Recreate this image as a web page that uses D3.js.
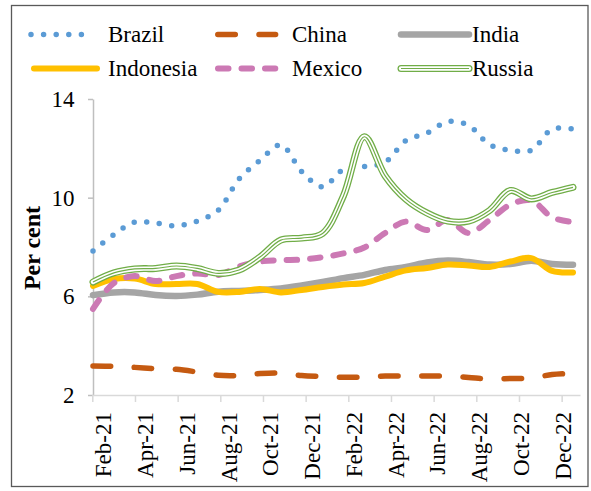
<!DOCTYPE html>
<html>
<head>
<meta charset="utf-8">
<script src="https://cdn.jsdelivr.net/npm/d3@7/dist/d3.min.js"></script>
<style>
  body { margin: 0; background: #fff; }
  text { font-family: "Liberation Serif", "Times New Roman", serif; fill: #000; }
</style>
</head>
<body>
<div id="chart"></div>
<script>

// one value per month start, Feb-21 ... Jan-23
var months = ["Feb-21", "Mar-21", "Apr-21", "May-21", "Jun-21", "Jul-21", "Aug-21", "Sep-21",
    "Oct-21", "Nov-21", "Dec-21", "Jan-22", "Feb-22", "Mar-22", "Apr-22", "May-22",
    "Jun-22", "Jul-22", "Aug-22", "Sep-22", "Oct-22", "Nov-22", "Dec-22", "Jan-23"];

var tickLabels = ["Feb-21", "Apr-21", "Jun-21", "Aug-21", "Oct-21", "Dec-21",
    "Feb-22", "Apr-22", "Jun-22", "Aug-22", "Oct-22", "Dec-22"];

var yTicks = [2, 6, 10, 14];

var brazil = [7.84, 8.50, 9.01, 8.97, 8.86, 9.05, 9.49, 10.76, 11.51, 12.14, 11.06, 10.44,
    11.14, 11.26, 11.44, 12.32, 12.62, 13.08, 12.93, 12.15, 11.92, 11.92, 12.78, 12.78];
var china = [3.18, 3.16, 3.12, 3.07, 3.04, 2.93, 2.80, 2.79, 2.87, 2.89, 2.79, 2.75,
    2.72, 2.73, 2.77, 2.77, 2.77, 2.77, 2.71, 2.65, 2.67, 2.69, 2.83, 2.88];
var india = [6.05, 6.16, 6.16, 6.05, 6.01, 6.07, 6.19, 6.22, 6.26, 6.32, 6.44, 6.58,
    6.74, 6.87, 7.07, 7.19, 7.37, 7.45, 7.39, 7.29, 7.31, 7.44, 7.31, 7.28];
var indonesia = [6.42, 6.70, 6.72, 6.50, 6.50, 6.50, 6.18, 6.18, 6.30, 6.16, 6.26, 6.38,
    6.48, 6.54, 6.80, 7.05, 7.15, 7.29, 7.25, 7.19, 7.41, 7.55, 7.03, 6.97];
var mexico = [5.49, 6.54, 6.82, 6.62, 6.82, 6.93, 6.86, 7.21, 7.41, 7.47, 7.49, 7.59,
    7.74, 7.98, 8.57, 9.03, 8.69, 9.09, 8.57, 9.09, 9.72, 9.89, 9.20, 9.01];
var russia = [6.58, 6.95, 7.11, 7.13, 7.23, 7.13, 6.93, 7.07, 7.59, 8.28, 8.36, 8.55,
    10.07, 12.47, 10.88, 9.93, 9.38, 9.05, 9.05, 9.48, 10.29, 9.95, 10.21, 10.42];

// series table, in drawing order (last one on top)
var series = [
    {name: "Brazil", values: brazil, color: "#5B9BD5", width: 5.5, dash: "0 12.6", col: 0, row: 0},
    {name: "China", values: china, color: "#C55A11", width: 5.5, dash: "17.5 23.7", col: 1, row: 0},
    {name: "India", values: india, color: "#A5A5A5", width: 6.5, dash: null, col: 2, row: 0},
    {name: "Indonesia", values: indonesia, color: "#FFC000", width: 6, dash: null, col: 0, row: 1},
    {name: "Mexico", values: mexico, color: "#CC79B4", width: 6, dash: "10.5 13", col: 1, row: 1},
    {name: "Russia", values: russia, color: "#70AD47", width: 7, dash: null, col: 2, row: 1, triple: true}
];

var W = 591, H = 491;

var svg = d3.select("#chart")
    .append("svg")
    .attr("width", W)
    .attr("height", H);

// outer frame
svg.append("rect")
    .attr("x", 11.5).attr("y", 5.5)
    .attr("width", 576.5).attr("height", 481)
    .attr("fill", "#fff")
    .attr("stroke", "#595959")
    .attr("stroke-width", 1.3);

// data positions
var x = d3.scaleLinear().domain([0, months.length - 1]).range([93, 573]);
// tick marks of the category axis run a touch wider than the data
var xTick = d3.scaleLinear().domain([0, 22.86]).range([92.3, 580]);
var y = d3.scaleLinear().domain([2, 14]).range([395, 99]);

// y axis
var yAxis = svg.append("g")
    .attr("transform", "translate(93,0)")
    .call(d3.axisLeft(y).tickValues(yTicks).tickSize(5).tickSizeOuter(0).tickPadding(13.5));
yAxis.select(".domain").attr("stroke", "#BFBFBF").attr("stroke-width", 1.5);
yAxis.selectAll(".tick line").attr("stroke", "#BFBFBF").attr("stroke-width", 1.5);
yAxis.selectAll(".tick text")
    .style("font-family", '"Liberation Serif", "Times New Roman", serif')
    .style("font-size", "23px")
    .attr("fill", "#000");

// x axis (tick marks only, labels placed below)
var xAxis = svg.append("g")
    .attr("transform", "translate(0,395)")
    .call(d3.axisBottom(xTick).tickValues(d3.range(0, 23, 2)).tickSize(7).tickSizeOuter(0).tickFormat(""));
xAxis.select(".domain").attr("stroke", "#D9D9D9").attr("stroke-width", 1.5);
xAxis.selectAll(".tick line").attr("stroke", "#D9D9D9").attr("stroke-width", 1.5);

svg.append("g")
    .selectAll("text")
    .data(tickLabels)
    .join("text")
    .attr("transform", function(d, i) { return "translate(" + x(2 * i + 0.5) + ",412) rotate(-90)"; })
    .attr("text-anchor", "end")
    .attr("dy", "0.35em")
    .style("font-size", "23px")
    .text(function(d) { return d; });

// y title
svg.append("text")
    .attr("transform", "translate(32,248) rotate(-90)")
    .attr("text-anchor", "middle")
    .attr("dy", "0.35em")
    .style("font-size", "24px")
    .style("font-weight", "bold")
    .text("Per cent");

// draw one stroke, with the triple-line treatment for Russia
function drawStroke(g, s, d) {
    if (s.triple) {
        g.append("path").attr("d", d).attr("fill", "none")
            .attr("stroke", s.color).attr("stroke-width", s.width).attr("stroke-linecap", "round");
        g.append("path").attr("d", d).attr("fill", "none")
            .attr("stroke", "#fff").attr("stroke-width", s.width - 2.6).attr("stroke-linecap", "round");
        g.append("path").attr("d", d).attr("fill", "none")
            .attr("stroke", s.color).attr("stroke-width", 1.2);
        return;
    }
    g.append("path").attr("d", d).attr("fill", "none")
        .attr("stroke", s.color)
        .attr("stroke-width", s.width)
        .attr("stroke-linecap", "round")
        .attr("stroke-linejoin", "round")
        .attr("stroke-dasharray", s.dash);
}

var line = d3.line()
    .x(function(d, i) { return x(i); })
    .y(function(d) { return y(d); })
    .curve(d3.curveCatmullRom);

var plot = svg.append("g");
series.forEach(function(s) {
    drawStroke(plot, s, line(s.values));
});

// legend, three columns by two rows
var legCols = [{x0: 31, x1: 94, tx: 108}, {x0: 217.8, x1: 275.6, tx: 292}, {x0: 401, x1: 469, tx: 472}];
var legRows = [34.5, 68.5];

var legend = svg.append("g");
series.forEach(function(s) {
    var c = legCols[s.col], ly = legRows[s.row];
    var x0 = c.x0, x1 = c.x1;
    if (s.name == "Indonesia") { x0 = 34; x1 = 97; }
    if (s.name == "Mexico") { x0 = 218; x1 = 275.3; }
    drawStroke(legend, s, "M" + x0 + "," + ly + "H" + x1);
    legend.append("text")
        .attr("x", c.tx)
        .attr("y", ly + 7.5)
        .style("font-size", "23px")
        .text(s.name);
});

</script>
</body>
</html>
